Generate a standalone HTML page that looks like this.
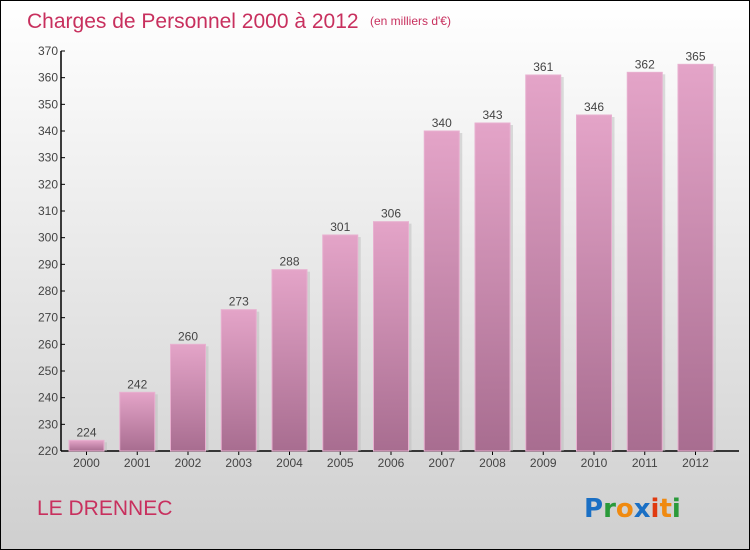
<!DOCTYPE html>
<html><head><meta charset="utf-8"><style>
body{margin:0;}
#wrap{position:relative;width:748px;height:548px;border:1px solid #000;background:linear-gradient(#fff,#cfcfcf);font-family:"Liberation Sans",sans-serif;overflow:hidden}
</style></head><body>
<div id="wrap">
<svg id="chart" width="748" height="548" style="position:absolute;left:0;top:0">
<defs>
<linearGradient id="bg" x1="0" y1="0" x2="0" y2="1"><stop offset="0" stop-color="#e4a4c8"/><stop offset="1" stop-color="#a86d90"/></linearGradient>
</defs>
<text x="26" y="27" font-size="21" fill="#c8305e">Charges de Personnel 2000 à 2012</text>
<text x="369" y="24" font-size="12" fill="#c8305e">(en milliers d'€)</text>
<text x="36" y="514" font-size="21" fill="#c8305e">LE DRENNEC</text>
<g font-size="26" font-weight="bold" font-family="'DejaVu Sans',sans-serif">
<text x="583" y="516"><tspan fill="#1a6fc4">P</tspan><tspan fill="#2a9a3a">r</tspan><tspan fill="#f08a10">o</tspan><tspan fill="#1a6fc4">x</tspan><tspan fill="#e03a10">i</tspan><tspan fill="#f08a10">t</tspan><tspan fill="#2a9a3a">i</tspan></text>
</g>
<g id="axes"></g>
<g id="bars"></g>
</svg>
</div>
<script>
const years=["2000","2001","2002","2003","2004","2005","2006","2007","2008","2009","2010","2011","2012"];
const values=[224,242,260,273,288,301,306,340,343,361,346,362,365];
const yTicks=[220,230,240,250,260,270,280,290,300,310,320,330,340,350,360,370];
const yMin=220,yMax=370,y0=450,y1=50,x0=60,step=50.75,bw=35;
const ns="http://www.w3.org/2000/svg";
function y(v){return y0-(v-yMin)/(yMax-yMin)*(y0-y1);}
function xc(i){return 85.5+i*step;}
function mk(t,a,p){const e=document.createElementNS(ns,t);for(const k in a)e.setAttribute(k,a[k]);p.appendChild(e);return e;}
const ax=document.getElementById('axes'),bg=document.getElementById('bars');
const yl=mk('line',{x1:x0,y1:y1,x2:x0,y2:y0,stroke:'#000','stroke-width':1.5},ax);


const xl=mk('line',{x1:x0,y1:y0,x2:738,y2:y0,stroke:'#000','stroke-width':1.5},ax);


yTicks.forEach(v=>{
 mk('line',{x1:x0,y1:y(v),x2:x0+4,y2:y(v),stroke:'#000'},ax);
 const t=mk('text',{x:x0-3,y:y(v)+4,'text-anchor':'end','font-size':12,fill:'#444'},ax);
 t.textContent=v;
 
 
});
years.forEach((yr,i)=>{
 const cx=xc(i),top=y(values[i]);
 mk('rect',{x:cx-bw/2+3,y:top+2,width:bw,height:y0-top-2,fill:'#bbb',opacity:0.5},bg);
 const r=mk('rect',{x:cx-bw/2,y:top,width:bw,height:y0-top,fill:'url(#bg)',stroke:'#e8b0d0','stroke-width':1},bg);
 
 
 const l=mk('text',{x:cx,y:top-4,'text-anchor':'middle','font-size':12,fill:'#444'},bg);
 l.textContent=values[i];
 
 
 mk('line',{x1:cx,y1:y0,x2:cx,y2:y0+4,stroke:'#000'},ax);
 const xt=mk('text',{x:cx,y:y0+16,'text-anchor':'middle','font-size':12,fill:'#444'},ax);
 xt.textContent=yr;
 
 
});
</script>
</body></html>
